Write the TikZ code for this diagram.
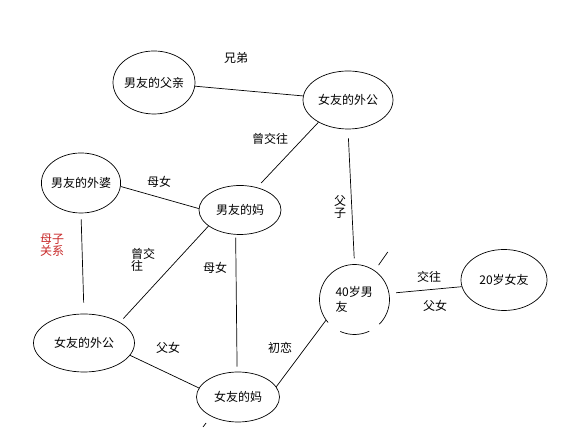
\documentclass[tikz,border=0pt]{standalone}
\usepackage{fontspec}
\setmainfont{Noto Sans CJK SC}
\usetikzlibrary{shapes.geometric}
\definecolor{notered}{RGB}{200, 40, 40}

\begin{document}
\begin{tikzpicture}[
        x=1pt, y=1pt,
        person/.style={ellipse, draw, line width=0.7pt, inner xsep=-2pt, inner ysep=0pt, font=\fontsize{12}{14}\selectfont},
        rel/.style={font=\fontsize{12}{12.5}\selectfont, align=left, inner sep=0pt},
        link/.style={line width=0.7pt}
    ]
    \useasboundingbox (0,0) rectangle (565,433);

    % People
    \node (bfdad) [person, minimum width=82pt, minimum height=63pt] at (154,350.5) {男友的父亲};
    \node (gfgrandpa) [person, minimum width=90pt, minimum height=58pt] at (348,333) {女友的外公};
    \node (bfgranny) [person, minimum width=78pt, minimum height=60pt] at (81,250) {男友的外婆};
    \node (bfmom) [person, minimum width=82pt, minimum height=49pt] at (240,223) {男友的妈};
    \node (man40) [circle, minimum size=70pt, inner sep=0pt, text width=38pt, align=left, font=\fontsize{12}{15}\selectfont] at (354.5,133.5) {40岁男\\友};
    \node (girl20) [person, minimum width=86pt, minimum height=61pt] at (504,153) {20岁女友};
    \node (gfgrandpa2) [person, minimum width=101pt, minimum height=58pt] at (84,90) {女友的外公};
    \node (gfmom) [person, minimum width=83pt, minimum height=50pt] at (238,36) {女友的妈};

    % broken circle round the 40-year-old
    \draw [link] (man40.center) ++(-45:35) arc[start angle=-45, end angle=221, radius=35];
    \draw [link] (man40.center) ++(246:35) arc[start angle=246, end angle=295, radius=35];

    % stray strokes
    \path (man40.center) ++(55:42) coordinate (stubA) ++(55:16) coordinate (stubB);
    \coordinate (stubC) at (203,6);
    \coordinate (stubD) at (206,10);
    \draw [link] (stubA) -- (stubB);
    \draw [link] (stubC) -- (stubD);

    % Relations
    \draw [link] (bfdad) -- (gfgrandpa);
    \draw [link, shorten >=6pt] (gfgrandpa.217) -- (bfmom.53);
    \draw [link, shorten <=9pt, shorten >=6pt] (gfgrandpa.south) -- (man40.north);
    \draw [link] (bfgranny.-5) -- (bfmom.178);
    \draw [link, shorten <=6pt, shorten >=11pt] (bfgranny.south) -- (gfgrandpa2.north);
    \draw [link, shorten >=5pt] (bfmom.207) -- (gfgrandpa2.30);
    \draw [link, shorten <=3pt, shorten >=5pt] (bfmom.260) -- (gfmom.92);
    \draw [link] (gfgrandpa2.-15) -- (gfmom.167);
    \draw [link] (gfmom.15) -- (man40.216);
    \draw [link, shorten <=7pt] (man40.10) -- (girl20.189);

    % Labels
    \node (brothers) [rel] at (236,375) {兄弟};
    \node (datedtop) [rel] at (270,294) {曾交往};
    \node (fatherson) [rel, align=center] at (340,226) {父\\子};
    \node (motherdau) [rel] at (159,251) {母女};
    \node (motherson) [rel, text=notered] at (52,188) {母子\\关系};
    \node (datedlow) [rel] at (143,173) {曾交\\往};
    \node (motherdau2) [rel] at (215,165) {母女};
    \node (dating) [rel] at (429,156) {交往};
    \node (fatherdau) [rel] at (435,127) {父女};
    \node (fatherdau2) [rel] at (168,85) {父女};
    \node (firstlove) [rel] at (280,85) {初恋};
\end{tikzpicture}
\end{document}
